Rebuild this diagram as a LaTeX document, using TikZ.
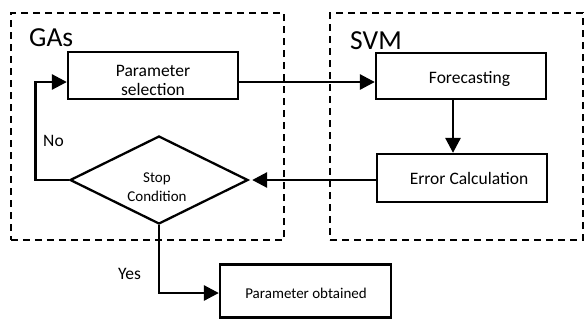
\documentclass[tikz,border=0pt]{standalone}
\usepackage{fontspec}
\setmainfont{Carlito}
\usetikzlibrary{shapes.geometric,arrows.meta}
\begin{document}
\begin{tikzpicture}[x=1bp,y=-1bp,
 box/.style={draw,line width=2.3bp,minimum width=170bp,minimum height=47bp,inner sep=0pt},
 group/.style={draw,line width=2.4bp,dash pattern=on 7bp off 5bp,inner sep=0pt},
 conn/.style={line width=2.8bp,-{Triangle[length=15bp,width=15bp]}},
 big/.style={font=\fontsize{17.5bp}{19bp}\selectfont},
 small/.style={font=\fontsize{15bp}{18.5bp}\selectfont},
 title/.style={font=\fontsize{27.5bp}{30bp}\selectfont},
 lbl/.style={inner sep=0pt,anchor=base}]
\useasboundingbox (0,0) rectangle (585,321);
% groups
\node[group,minimum width=273bp,minimum height=227bp] (gas) at (147.5,126.5) {};
\node[group,minimum width=253bp,minimum height=227bp] (svm) at (456.5,126.5) {};
\node[title,inner sep=0pt,anchor=base west] (gaslbl) at (29,46.5) {GAs};
\node[title,inner sep=0pt,anchor=base west] (svmlbl) at (350,49.5) {SVM};
% boxes
\node[box] (ps) at (153,75.5) {};
\node[big,align=center,inner sep=0pt] (pst) at (153,80) {Parameter\\selection};
\node[box,minimum height=46bp] (fc) at (461,76) {};
\node[big,lbl] (fct) at (469.5,83) {Forecasting};
\node[box,minimum height=48bp] (ec) at (462,178) {};
\node[big,lbl] (ect) at (469,184) {Error Calculation};
\node[draw,diamond,line width=2.3bp,minimum width=178bp,minimum height=88bp,inner sep=0pt] (stop) at (159,180) {};
\node[small,align=center,inner sep=0pt] (stopt) at (157,187) {Stop\\Condition};
\node[box,minimum width=171bp,minimum height=53bp] (po) at (305.5,291) {};
\node[small,lbl] (pot) at (306,298) {Parameter obtained};
% labels
\node[big,inner sep=0pt,anchor=base west] (no) at (43,146.5) {No};
\node[big,inner sep=0pt,anchor=base west] (yes) at (118,279) {Yes};
% connectors
\draw[conn] ([yshift=-6.5bp]ps.east) -- ([yshift=-6bp]fc.west);
\draw[conn] ([xshift=-8bp]fc.south) -- ([xshift=-9bp]ec.north);
\draw[conn] (ec.west |- stop.east) -- ([xshift=3bp]stop.east);
\draw[conn] (stop.west) -- ++(-33,0) |- ([yshift=-6.5bp]ps.west);
\draw[conn] (stop.south) |- ([yshift=-2bp]po.west);
\end{tikzpicture}
\end{document}
